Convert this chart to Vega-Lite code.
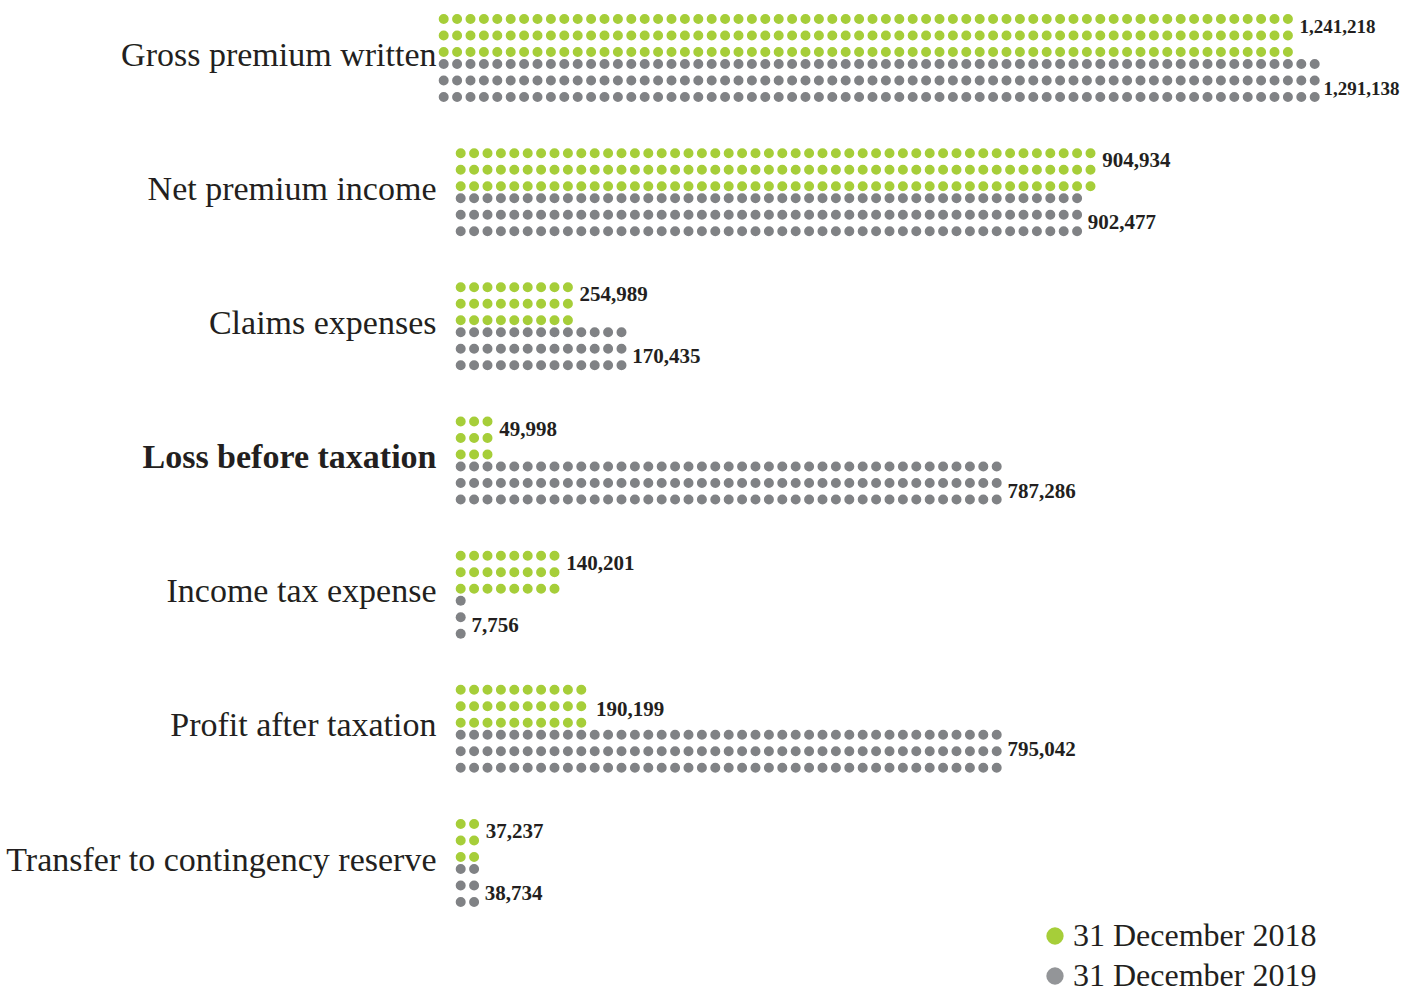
{
  "$schema": "https://vega.github.io/schema/vega-lite/v6.json",
  "autosize": "none",
  "width": 938,
  "height": 805,
  "padding": {"left": 454, "top": 58, "right": 27, "bottom": 129},
  "background": "white",
  "config": {"view": {"stroke": null}},
  "data": {"values": [
    {"category": "Gross premium written", "series": "31 December 2018", "value": 1241218, "dots": 64},
    {"category": "Gross premium written", "series": "31 December 2019", "value": 1291138, "dots": 66},
    {"category": "Net premium income", "series": "31 December 2018", "value": 904934, "dots": 48},
    {"category": "Net premium income", "series": "31 December 2019", "value": 902477, "dots": 47},
    {"category": "Claims expenses", "series": "31 December 2018", "value": 254989, "dots": 9},
    {"category": "Claims expenses", "series": "31 December 2019", "value": 170435, "dots": 13},
    {"category": "Loss before taxation", "series": "31 December 2018", "value": 49998, "dots": 3},
    {"category": "Loss before taxation", "series": "31 December 2019", "value": 787286, "dots": 41},
    {"category": "Income tax expense", "series": "31 December 2018", "value": 140201, "dots": 8},
    {"category": "Income tax expense", "series": "31 December 2019", "value": 7756, "dots": 1},
    {"category": "Profit after taxation", "series": "31 December 2018", "value": 190199, "dots": 10},
    {"category": "Profit after taxation", "series": "31 December 2019", "value": 795042, "dots": 41},
    {"category": "Transfer to contingency reserve", "series": "31 December 2018", "value": 37237, "dots": 2},
    {"category": "Transfer to contingency reserve", "series": "31 December 2019", "value": 38734, "dots": 2}
  ]},
  "encoding": {
    "y": {
      "field": "category", "type": "nominal",
      "sort": ["Gross premium written", "Net premium income", "Claims expenses", "Loss before taxation", "Income tax expense", "Profit after taxation", "Transfer to contingency reserve"],
      "scale": {"type": "point", "padding": 0},
      "axis": {
        "title": null, "domain": false, "ticks": false, "tickSize": 0, "grid": false,
        "labelPadding": 18, "labelOffset": -3, "labelFont": "Liberation Serif", "labelFontSize": 34,
        "labelColor": "#231f20", "labelLimit": 600,
        "labelFontWeight": {"condition": {"test": "datum.value === 'Loss before taxation'", "value": "bold"}, "value": "normal"}
      }
    },
    "x": {"field": "dots", "type": "quantitative", "scale": {"domain": [0, 70], "nice": false, "zero": true}, "axis": null}
  },
  "layer": [
    {"transform": [{"filter": "datum.series === '31 December 2018' && datum.category !== 'Gross premium written'"}],
     "mark": {"type": "rule", "strokeWidth": 10, "strokeCap": "round", "strokeDash": [0, 13.4], "strokeDashOffset": 6.7, "yOffset": -39},
     "encoding": {"x2": {"datum": 0},
       "color": {"field": "series", "type": "nominal", "scale": {"domain": ["31 December 2018", "31 December 2019"], "range": ["#a6ce39", "#808285"]},
         "legend": {"orient": "none", "legendX": 585, "legendY": 862, "title": null, "symbolType": "circle", "symbolSize": 300, "symbolStrokeWidth": 0, "labelFont": "Liberation Serif", "labelFontSize": 32, "labelColor": "#231f20", "labelOffset": 2, "rowPadding": 8, "labelLimit": 400,
           "encode": {"symbols": {"update": {"fill": {"signal": "datum.value === '31 December 2019' ? '#939598' : '#a6ce39'"}, "opacity": {"value": 1}}}}}}}},
    {"transform": [{"filter": "datum.series === '31 December 2018' && datum.category !== 'Gross premium written'"}],
     "mark": {"type": "rule", "strokeWidth": 10, "strokeCap": "round", "strokeDash": [0, 13.4], "strokeDashOffset": 6.7, "yOffset": -22.5},
     "encoding": {"x2": {"datum": 0}, "color": {"field": "series", "type": "nominal"}}},
    {"transform": [{"filter": "datum.series === '31 December 2018' && datum.category !== 'Gross premium written'"}],
     "mark": {"type": "rule", "strokeWidth": 10, "strokeCap": "round", "strokeDash": [0, 13.4], "strokeDashOffset": 6.7, "yOffset": -6},
     "encoding": {"x2": {"datum": 0}, "color": {"field": "series", "type": "nominal"}}},
    {"transform": [{"filter": "datum.series === '31 December 2019' && datum.category !== 'Gross premium written'"}],
     "mark": {"type": "rule", "strokeWidth": 10, "strokeCap": "round", "strokeDash": [0, 13.4], "strokeDashOffset": 6.7, "yOffset": 6},
     "encoding": {"x2": {"datum": 0}, "color": {"field": "series", "type": "nominal"}}},
    {"transform": [{"filter": "datum.series === '31 December 2019' && datum.category !== 'Gross premium written'"}],
     "mark": {"type": "rule", "strokeWidth": 10, "strokeCap": "round", "strokeDash": [0, 13.4], "strokeDashOffset": 6.7, "yOffset": 22.5},
     "encoding": {"x2": {"datum": 0}, "color": {"field": "series", "type": "nominal"}}},
    {"transform": [{"filter": "datum.series === '31 December 2019' && datum.category !== 'Gross premium written'"}],
     "mark": {"type": "rule", "strokeWidth": 10, "strokeCap": "round", "strokeDash": [0, 13.4], "strokeDashOffset": 6.7, "yOffset": 39},
     "encoding": {"x2": {"datum": 0}, "color": {"field": "series", "type": "nominal"}}},
    {"transform": [{"filter": "datum.series === '31 December 2018' && datum.category === 'Gross premium written'"}],
     "mark": {"type": "rule", "strokeWidth": 10, "strokeCap": "round", "strokeDash": [0, 13.4], "strokeDashOffset": 6.7, "yOffset": -39, "xOffset": -17, "x2Offset": -17},
     "encoding": {"x2": {"datum": 0}, "color": {"field": "series", "type": "nominal"}}},
    {"transform": [{"filter": "datum.series === '31 December 2018' && datum.category === 'Gross premium written'"}],
     "mark": {"type": "rule", "strokeWidth": 10, "strokeCap": "round", "strokeDash": [0, 13.4], "strokeDashOffset": 6.7, "yOffset": -22.5, "xOffset": -17, "x2Offset": -17},
     "encoding": {"x2": {"datum": 0}, "color": {"field": "series", "type": "nominal"}}},
    {"transform": [{"filter": "datum.series === '31 December 2018' && datum.category === 'Gross premium written'"}],
     "mark": {"type": "rule", "strokeWidth": 10, "strokeCap": "round", "strokeDash": [0, 13.4], "strokeDashOffset": 6.7, "yOffset": -6, "xOffset": -17, "x2Offset": -17},
     "encoding": {"x2": {"datum": 0}, "color": {"field": "series", "type": "nominal"}}},
    {"transform": [{"filter": "datum.series === '31 December 2019' && datum.category === 'Gross premium written'"}],
     "mark": {"type": "rule", "strokeWidth": 10, "strokeCap": "round", "strokeDash": [0, 13.4], "strokeDashOffset": 6.7, "yOffset": 6, "xOffset": -17, "x2Offset": -17},
     "encoding": {"x2": {"datum": 0}, "color": {"field": "series", "type": "nominal"}}},
    {"transform": [{"filter": "datum.series === '31 December 2019' && datum.category === 'Gross premium written'"}],
     "mark": {"type": "rule", "strokeWidth": 10, "strokeCap": "round", "strokeDash": [0, 13.4], "strokeDashOffset": 6.7, "yOffset": 22.5, "xOffset": -17, "x2Offset": -17},
     "encoding": {"x2": {"datum": 0}, "color": {"field": "series", "type": "nominal"}}},
    {"transform": [{"filter": "datum.series === '31 December 2019' && datum.category === 'Gross premium written'"}],
     "mark": {"type": "rule", "strokeWidth": 10, "strokeCap": "round", "strokeDash": [0, 13.4], "strokeDashOffset": 6.7, "yOffset": 39, "xOffset": -17, "x2Offset": -17},
     "encoding": {"x2": {"datum": 0}, "color": {"field": "series", "type": "nominal"}}},
    {"transform": [{"filter": "datum.series === '31 December 2018' && datum.category !== 'Gross premium written' && datum.category !== 'Profit after taxation'"}],
     "mark": {"type": "text", "align": "left", "baseline": "middle", "dx": 5, "yOffset": -31, "font": "Liberation Serif", "fontWeight": "bold", "fontSize": 21, "color": "#231f20"},
     "encoding": {"text": {"field": "value", "type": "quantitative", "format": ","}}},
    {"transform": [{"filter": "datum.series === '31 December 2019' && datum.category !== 'Gross premium written' && datum.category !== 'Profit after taxation'"}],
     "mark": {"type": "text", "align": "left", "baseline": "middle", "dx": 4, "yOffset": 31, "font": "Liberation Serif", "fontWeight": "bold", "fontSize": 21, "color": "#231f20"},
     "encoding": {"text": {"field": "value", "type": "quantitative", "format": ","}}},
    {"transform": [{"filter": "datum.series === '31 December 2018' && datum.category === 'Profit after taxation'"}],
     "mark": {"type": "text", "align": "left", "baseline": "middle", "dx": 8, "yOffset": -19, "font": "Liberation Serif", "fontWeight": "bold", "fontSize": 21, "color": "#231f20"},
     "encoding": {"text": {"field": "value", "type": "quantitative", "format": ","}}},
    {"transform": [{"filter": "datum.series === '31 December 2019' && datum.category === 'Profit after taxation'"}],
     "mark": {"type": "text", "align": "left", "baseline": "middle", "dx": 4, "yOffset": 21, "font": "Liberation Serif", "fontWeight": "bold", "fontSize": 21, "color": "#231f20"},
     "encoding": {"text": {"field": "value", "type": "quantitative", "format": ","}}},
    {"transform": [{"filter": "datum.series === '31 December 2018' && datum.category === 'Gross premium written'"}],
     "mark": {"type": "text", "align": "left", "baseline": "middle", "dx": 5, "yOffset": -31, "xOffset": -17, "font": "Liberation Serif", "fontWeight": "bold", "fontSize": 19, "color": "#231f20"},
     "encoding": {"text": {"field": "value", "type": "quantitative", "format": ","}}},
    {"transform": [{"filter": "datum.series === '31 December 2019' && datum.category === 'Gross premium written'"}],
     "mark": {"type": "text", "align": "left", "baseline": "middle", "dx": 2, "yOffset": 31, "xOffset": -17, "font": "Liberation Serif", "fontWeight": "bold", "fontSize": 19, "color": "#231f20"},
     "encoding": {"text": {"field": "value", "type": "quantitative", "format": ","}}}
  ]
}
